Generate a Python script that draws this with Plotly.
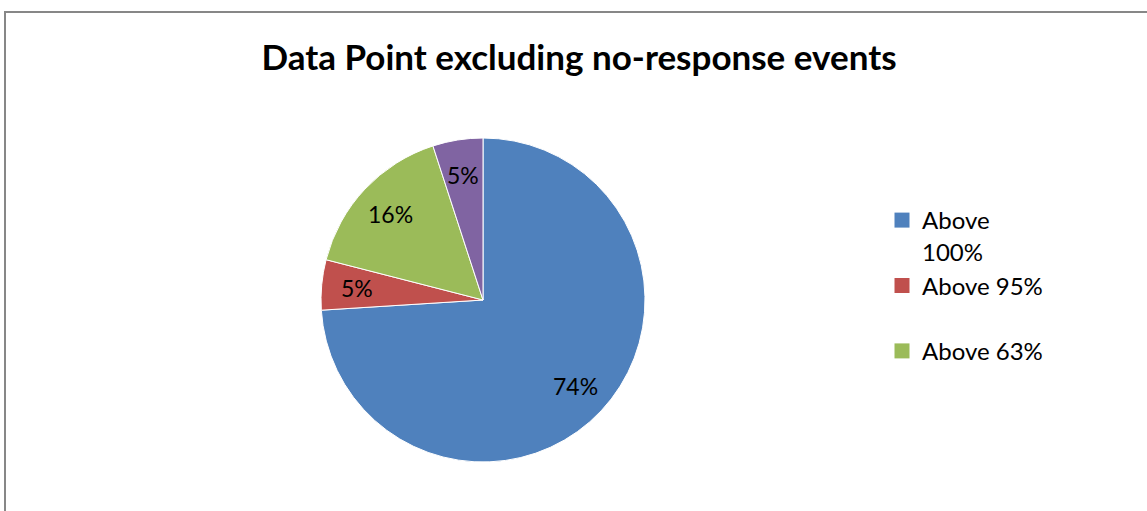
import math
import plotly.graph_objects as go

# ---- data ----
labels = ["Above 100%", "Above 95%", "Above 63%", "Below 63%"]
values = [74, 5, 16, 5]
colors = ["#4F81BD", "#C0504D", "#9BBB59", "#8064A2"]
legend_labels = ["Above<br>100%", "Above 95%<br> ", "Above 63%"]
title_text = "Data Point excluding no-response events"

W, H = 1147, 511
FONT = "Lato"
CX, CY, R = 483, 300, 162   # pie centre / radius in pixels
LABEL_FRAC = 0.78           # data labels sit at this fraction of the radius

fig = go.Figure()

fig.add_trace(go.Pie(
    labels=labels,
    values=values,
    sort=False,
    direction="clockwise",
    rotation=0,
    marker=dict(colors=colors, line=dict(color="white", width=1)),
    textinfo="none",
    showlegend=False,
    hoverinfo="skip",
    domain=dict(x=[(CX - R) / W, (CX + R) / W],
                y=[1 - (CY + R) / H, 1 - (CY - R) / H]),
))

# data labels, placed along each slice's mid-angle (derived from the values)
total = sum(values)
cum = 0
for v in values:
    mid = (cum + v / 2) / total * 2 * math.pi
    cum += v
    px = CX + LABEL_FRAC * R * math.sin(mid)
    py = CY - LABEL_FRAC * R * math.cos(mid)
    fig.add_annotation(x=px / W, y=1 - py / H, xref="paper", yref="paper",
                       text=f"{round(v / total * 100)}%", showarrow=False,
                       xanchor="center", yanchor="middle",
                       font=dict(family=FONT, size=23, color="black"))

# legend entries (only the first three categories appear in the legend)
for name, col in zip(legend_labels, colors[:3]):
    fig.add_trace(go.Scatter(
        x=[None], y=[None], mode="markers", name=name,
        marker=dict(symbol="square", size=15, color=col),
        hoverinfo="skip",
    ))

# chart frame
fig.add_shape(type="rect", xref="paper", yref="paper",
              x0=5 / W, x1=1 + 10 / W, y0=-10 / H, y1=1 - 12 / H,
              line=dict(color="#878787", width=2), fillcolor="rgba(0,0,0,0)")

fig.update_layout(
    width=W, height=H,
    margin=dict(l=0, r=0, t=0, b=0),
    paper_bgcolor="white", plot_bgcolor="white",
    title=dict(text="<b>" + title_text + "</b>", x=579 / W, xanchor="center",
               y=1 - 58 / H, yanchor="middle",
               font=dict(family=FONT, size=35, color="black")),
    xaxis=dict(visible=False), yaxis=dict(visible=False),
    legend=dict(x=882 / W, y=1 - 198 / H, xanchor="left", yanchor="top",
                valign="top", tracegroupgap=0,
                font=dict(family=FONT, size=24, color="black"),
                bgcolor="rgba(0,0,0,0)"),
)

fig.write_html("out.html", config={"displayModeBar": False},
               post_script="document.body.style.margin='0';")
